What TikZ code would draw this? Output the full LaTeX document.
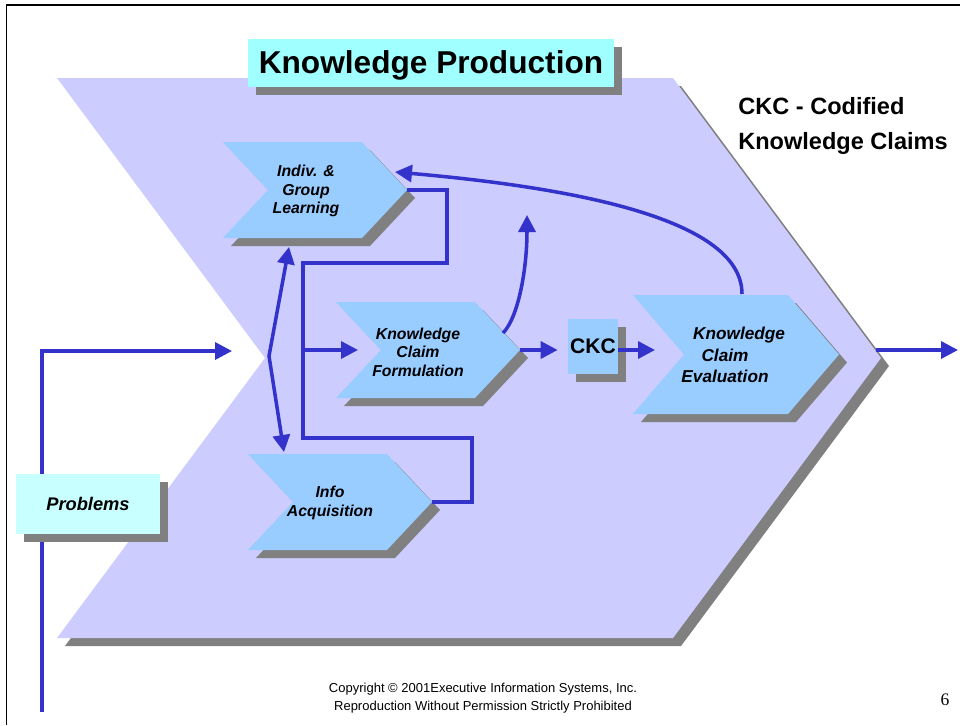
\documentclass[tikz,border=0pt]{standalone}
\usepackage{fontspec}
\setmainfont{Liberation Sans}
\newfontfamily\pagefont{Liberation Serif}
\usepackage{tikz}
\usetikzlibrary{arrows.meta}
\definecolor{kplav}{HTML}{CCCCFF}
\definecolor{kpblue}{HTML}{99CCFF}
\definecolor{kpcyan}{HTML}{A0FFFF}
\definecolor{kppale}{HTML}{C8FFFF}
\definecolor{kpgray}{HTML}{808080}
\definecolor{kpline}{HTML}{3333CC}
\def\px{0.02cm}
\tikzset{
    castshadow/.style={preaction={fill=kpgray, transform canvas={shift={(8,8)}}}},
    flow/.style={draw=kpline, line width=2pt, >={Triangle[length=0.34cm, width=0.34cm]}},
    lbl/.style={align=center, inner sep=0, font=\bfseries\itshape\fontsize{9}{10.6}\selectfont},
    box/.style={castshadow, inner sep=0, font=\bfseries},
}

\begin{document}
\begin{tikzpicture}[x=\px, y=-\px]
    \useasboundingbox (0,0) rectangle (960,725);

    % frame
    \draw[line width=0.8pt] (6.5,725) -- (6.5,5) -- (960,5);

    % chevrons: name / left / top / width / depth / height / colour
    \foreach \name/\lx/\ty/\w/\d/\h/\co in {
        kp/57/78/616/208/560/kplav,
        indiv/223/142/139/45/96/kpblue,
        kcf/336/302/139/45/96/kpblue,
        info/248/454/139/45/96/kpblue,
        kce/633/295/155/51/119/kpblue}
    {
        \fill[\co, castshadow]
            (\lx,\ty) -- ++(\w,0) -- ++(\d,\h/2) -- ++(-\d,\h/2)
            -- ++(-\w,0) -- ++(\d,-\h/2) -- cycle;
        \coordinate (\name-tip) at (\lx+\w+\d, \ty+\h/2);
        \coordinate (\name-notch) at (\lx+\d, \ty+\h/2);
    }

    % title
    \node[box, fill=kpcyan, minimum width={366*\px}, minimum height={48*\px},
        text height=13pt, text depth=0.5pt,
        font=\bfseries\fontsize{18}{20}\selectfont] (title) at (431,63) {Knowledge Production};

    \node[anchor=north west, inner sep=0, align=left,
        font=\bfseries\fontsize{13.4}{19.8}\selectfont] (ckc-note) at (738,97)
        {CKC - Codified\\Knowledge Claims};

    % chevron labels
    \node[lbl] (indiv-lbl) at (306,191) {Indiv. \&\\Group\\Learning};
    \node[lbl] (kcf-lbl) at (418,352) {Knowledge\\Claim\\Formulation};
    \node[lbl] (info-lbl) at (330,503) {Info\\Acquisition};
    \node[lbl, font=\bfseries\itshape\fontsize{9.8}{12.2}\selectfont] (kce-lbl) at (725,355)
        {\hspace*{16pt}Knowledge\\Claim\\Evaluation};

    % input
    \coordinate (src) at (42,712);
    \coordinate (kp-in) at (232,351);
    \draw[flow,->] (src) |- (kp-in);

    % learning / acquisition
    \coordinate (kink) at (269,356);
    \coordinate (indiv-foot) at (289,247);
    \coordinate (info-head) at (284,452);
    \draw[flow,<->] (indiv-foot) -- (kink) -- (info-head);

    % loop
    \coordinate (branch) at (303,350);
    \draw[flow] (info-tip) -- ++(40,0) |- (303,438) |- (447,263) |- (indiv-tip);
    \draw[flow,->,shorten >={23*\px}] (branch) -- (kcf-notch);

    % CKC
    \node[box, fill=kpblue, minimum width={50*\px}, minimum height={55*\px},
        font=\bfseries\fontsize{12}{14}\selectfont] (ckc) at (593,346.5) {CKC};
    \draw[flow,->,shorten >={10*\px}] (kcf-tip) -- (kcf-tip -| ckc.west);
    \draw[flow,->,shorten >={29*\px}] (kcf-tip -| ckc.east) -- (kcf-tip -| kce-notch);

    % rising claim
    \coordinate (kcf-rise) at (503,333);
    \coordinate (claim-up) at (527,215);
    \draw[flow,->] (kcf-rise) .. controls (518,318) and (527,270) .. (claim-up);

    % feedback
    \coordinate (kce-top) at (742,294);
    \coordinate (indiv-in) at (395,172);
    \draw[flow,->] (kce-top) .. controls (742,225) and (600,190) .. (indiv-in);

    % output
    \coordinate (kp-out) at (876,350);
    \coordinate (result) at (958,350);
    \draw[flow,->] (kp-out) -- (result);

    % problems
    \node[box, fill=kppale, minimum width={144*\px}, minimum height={60*\px},
        font=\bfseries\itshape\fontsize{10.4}{12}\selectfont] (problems) at (88,504) {Problems};

    % footer
    \node[align=center, inner sep=0, font=\fontsize{7.4}{10.2}\selectfont] (copy) at (483,698)
        {Copyright © 2001Executive Information Systems, Inc.\\Reproduction Without Permission Strictly Prohibited};
    \node[inner sep=0, font=\pagefont\fontsize{10}{12}\selectfont] (pagenum) at (945,700) {6};
\end{tikzpicture}
\end{document}
